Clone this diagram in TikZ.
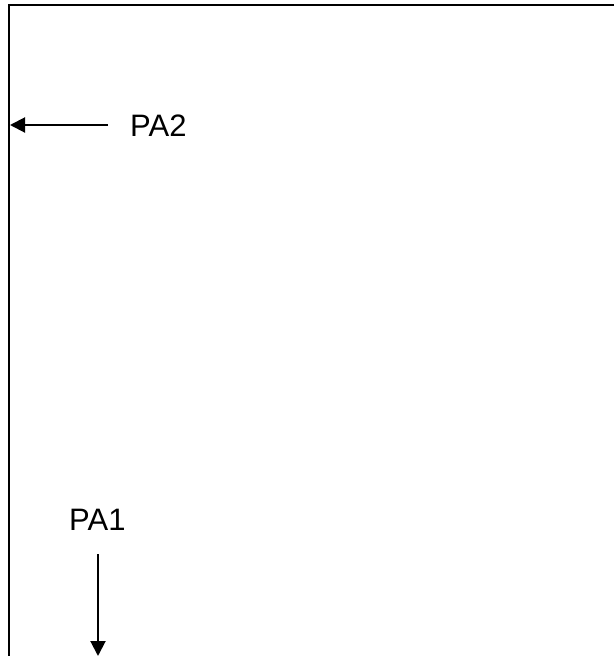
\documentclass[tikz,border=0pt]{standalone}
\usepackage{fontspec}
\setmainfont{Liberation Sans}
\usetikzlibrary{arrows.meta}
\tikzset{
  frame/.style={line width=2.3pt},
  arr/.style={line width=2pt,-{Triangle[length=15pt,width=15pt]}},
  lbl/.style={inner sep=0pt,font=\fontsize{31}{37}\selectfont}
}
\begin{document}
\begin{tikzpicture}[x=1pt,y=-1pt]
\useasboundingbox (0,0) rectangle (614,656);
\draw[frame] (614,5) -- (9,5) -- (9,656);
\node[lbl,anchor=base west] (pa2) at (130,136) {PA2};
\node[lbl,anchor=base west] (pa1) at (69,530) {PA1};
\coordinate (s2) at (108,125);
\coordinate (e2) at (10,125);
\coordinate (s1) at (98,554);
\coordinate (e1) at (98,656);
\draw[arr] (s2) -- (e2);
\draw[arr] (s1) -- (e1);
\end{tikzpicture}
\end{document}
